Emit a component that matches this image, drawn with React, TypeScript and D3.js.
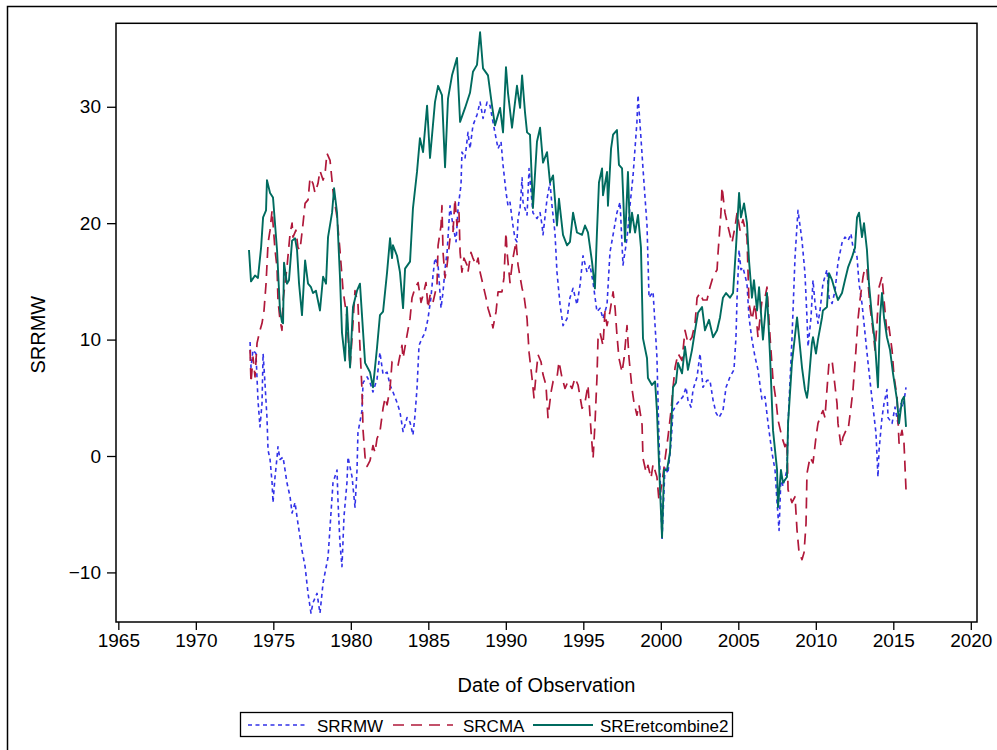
import { useEffect, useRef } from "react"
import { axisBottom, axisLeft, line, scaleLinear, select } from "d3"

// [decimal year, value]
const srrmw: [number, number][] = [
  [1973.50,9.8],[1973.56,7.6],[1973.69,9.1],[1973.88,8.8],[1974.01,4.8],[1974.14,2.5],[1974.27,4.5],[1974.34,8.8],[1974.46,6.3],[1974.59,3.3],[1974.66,0.5],[1974.79,-0.3],[1974.92,-2.3],[1974.98,-4.0],[1975.11,-1.8],[1975.24,-0.1],[1975.30,0.8],[1975.43,-0.3],[1975.63,-0.1],[1975.88,-2.3],[1976.08,-3.5],[1976.21,-4.9],[1976.40,-4.0],[1976.59,-5.8],[1976.85,-8.1],[1977.05,-9.5],[1977.24,-11.8],[1977.43,-13.5],[1977.56,-12.6],[1977.82,-11.8],[1978.01,-13.5],[1978.21,-10.9],[1978.34,-10.0],[1978.53,-8.7],[1978.66,-6.1],[1978.85,-2.3],[1979.11,-1.2],[1979.17,-3.8],[1979.30,-7.5],[1979.43,-9.5],[1979.56,-5.2],[1979.75,-2.3],[1979.82,-0.1],[1980.08,-1.8],[1980.27,-4.4],[1980.40,-1.2],[1980.46,2.0],[1980.72,3.9],[1980.79,6.3],[1981.05,6.8],[1981.24,6.3],[1981.43,5.5],[1981.69,6.6],[1981.88,8.9],[1982.08,7.0],[1982.34,7.2],[1982.53,6.1],[1982.72,5.5],[1982.98,4.6],[1983.17,3.8],[1983.37,2.1],[1983.63,3.3],[1983.82,2.9],[1984.01,1.8],[1984.14,3.5],[1984.27,5.8],[1984.40,9.5],[1984.59,10.1],[1984.79,10.6],[1984.98,11.8],[1985.17,13.6],[1985.30,15.5],[1985.43,17.0],[1985.63,16.4],[1985.82,12.7],[1985.95,14.1],[1986.08,16.1],[1986.21,17.5],[1986.40,21.5],[1986.59,19.8],[1986.79,18.4],[1986.92,21.3],[1987.11,23.3],[1987.17,26.1],[1987.37,25.6],[1987.56,27.8],[1987.69,26.4],[1987.88,28.4],[1988.14,29.3],[1988.34,30.4],[1988.53,29.0],[1988.79,30.4],[1988.98,30.1],[1989.17,28.7],[1989.37,27.3],[1989.50,26.4],[1989.69,27.0],[1989.82,25.0],[1990.01,22.7],[1990.14,21.5],[1990.27,21.8],[1990.40,20.4],[1990.46,19.8],[1990.59,18.7],[1990.72,18.4],[1990.79,20.4],[1990.92,21.3],[1991.05,23.9],[1991.11,21.8],[1991.37,20.7],[1991.50,24.7],[1991.63,22.7],[1991.75,20.9],[1992.01,20.4],[1992.21,20.9],[1992.34,19.8],[1992.40,19.0],[1992.66,22.1],[1992.85,23.5],[1992.98,21.5],[1993.17,19.2],[1993.30,15.8],[1993.50,13.0],[1993.69,11.2],[1993.95,11.8],[1994.14,13.6],[1994.34,14.4],[1994.59,13.0],[1994.79,14.7],[1994.98,17.2],[1995.24,15.8],[1995.43,16.4],[1995.63,14.9],[1995.88,12.4],[1996.08,12.7],[1996.27,11.8],[1996.53,13.0],[1996.72,17.5],[1996.92,19.0],[1997.17,20.9],[1997.37,21.8],[1997.56,16.4],[1997.82,18.7],[1998.01,21.5],[1998.21,24.1],[1998.46,28.7],[1998.53,31.0],[1998.72,27.3],[1998.85,24.7],[1999.11,19.8],[1999.24,13.6],[1999.50,14.1],[1999.75,8.5],[1999.88,1.6],[2000.08,-7.2],[2000.27,-0.9],[2000.46,-1.5],[2000.66,1.1],[2000.79,3.9],[2001.05,4.5],[2001.24,4.8],[2001.43,5.1],[2001.63,5.9],[2001.75,4.8],[2001.95,4.2],[2002.08,5.7],[2002.34,6.8],[2002.53,8.8],[2002.72,5.9],[2002.98,6.5],[2003.17,6.5],[2003.37,4.8],[2003.56,3.7],[2003.75,3.3],[2004.01,3.9],[2004.21,5.9],[2004.46,6.8],[2004.72,7.4],[2004.85,10.2],[2004.92,13.6],[2005.05,17.7],[2005.17,16.0],[2005.30,16.2],[2005.56,14.8],[2005.69,11.9],[2005.88,10.0],[2006.08,8.5],[2006.27,7.4],[2006.53,4.8],[2006.72,5.1],[2006.92,2.8],[2007.17,0.3],[2007.37,-1.2],[2007.50,-4.0],[2007.63,-6.4],[2007.75,-1.8],[2007.88,-2.6],[2008.14,-1.2],[2008.21,2.8],[2008.46,10.0],[2008.66,17.1],[2008.85,21.1],[2009.11,18.5],[2009.30,15.7],[2009.43,11.9],[2009.50,9.4],[2009.69,11.9],[2009.82,15.1],[2009.95,13.1],[2010.14,11.4],[2010.27,12.5],[2010.46,14.8],[2010.72,16.0],[2010.85,13.6],[2011.05,13.1],[2011.24,14.2],[2011.43,16.6],[2011.69,18.3],[2011.88,18.8],[2012.08,18.5],[2012.27,19.1],[2012.40,17.9],[2012.66,17.1],[2012.79,14.8],[2012.98,13.1],[2013.17,10.6],[2013.37,8.0],[2013.56,5.7],[2013.69,4.2],[2013.88,2.0],[2014.01,-1.8],[2014.08,0.5],[2014.27,3.3],[2014.40,4.5],[2014.59,5.7],[2014.66,3.3],[2014.92,2.8],[2015.11,4.2],[2015.30,2.8],[2015.50,4.5],[2015.63,4.2],[2015.82,5.9]
]

const srcma: [number, number][] = [
  [1973.50,9.1],[1973.56,6.3],[1973.69,8.5],[1973.82,6.8],[1973.95,9.7],[1974.14,10.8],[1974.27,11.4],[1974.40,12.5],[1974.53,14.8],[1974.66,18.3],[1974.79,19.4],[1974.92,21.1],[1974.98,20.0],[1975.11,17.7],[1975.24,16.2],[1975.30,13.4],[1975.43,11.7],[1975.56,10.8],[1975.63,13.4],[1975.88,16.2],[1976.08,19.1],[1976.21,20.0],[1976.27,18.8],[1976.46,19.4],[1976.59,17.9],[1976.72,17.7],[1976.92,20.0],[1977.05,21.7],[1977.24,22.0],[1977.37,23.9],[1977.56,23.4],[1977.69,22.6],[1977.88,23.4],[1978.01,24.5],[1978.21,23.7],[1978.34,24.3],[1978.46,26.0],[1978.66,25.4],[1978.85,22.8],[1979.11,20.5],[1979.30,17.7],[1979.50,14.2],[1979.75,11.9],[1979.95,7.6],[1980.08,10.2],[1980.27,14.2],[1980.46,13.1],[1980.72,5.7],[1980.79,2.2],[1980.92,-0.1],[1981.05,-0.9],[1981.24,-0.4],[1981.43,0.9],[1981.56,0.3],[1981.69,1.5],[1981.88,2.1],[1982.08,4.1],[1982.21,5.0],[1982.34,4.4],[1982.53,5.8],[1982.66,8.1],[1982.85,8.1],[1983.05,7.8],[1983.30,9.5],[1983.37,8.4],[1983.63,10.4],[1983.82,11.8],[1983.95,13.6],[1984.14,14.4],[1984.34,14.9],[1984.53,13.2],[1984.66,13.8],[1984.85,14.9],[1984.98,12.7],[1985.11,13.8],[1985.30,13.2],[1985.56,14.7],[1985.63,18.1],[1985.82,19.8],[1985.88,21.5],[1985.95,17.5],[1986.08,15.3],[1986.21,16.4],[1986.40,18.7],[1986.59,19.2],[1986.72,22.1],[1986.85,19.8],[1986.98,20.9],[1987.05,17.5],[1987.17,15.8],[1987.30,17.0],[1987.50,16.4],[1987.56,15.8],[1987.75,17.5],[1987.88,17.0],[1988.08,16.4],[1988.21,17.0],[1988.34,15.8],[1988.53,14.7],[1988.72,13.6],[1988.85,12.7],[1989.05,11.8],[1989.17,11.0],[1989.37,12.4],[1989.50,14.1],[1989.75,14.1],[1989.88,15.3],[1990.01,19.2],[1990.08,17.5],[1990.27,14.9],[1990.46,17.0],[1990.66,18.4],[1990.79,16.4],[1991.05,14.4],[1991.17,13.8],[1991.37,11.8],[1991.50,8.9],[1991.69,6.7],[1991.82,5.0],[1991.95,7.0],[1992.08,8.7],[1992.27,8.1],[1992.40,7.0],[1992.59,6.1],[1992.72,3.3],[1992.92,5.5],[1993.05,6.4],[1993.30,6.7],[1993.43,8.1],[1993.63,6.7],[1993.82,5.8],[1994.01,6.4],[1994.27,5.8],[1994.46,6.7],[1994.66,6.1],[1994.92,4.1],[1995.11,4.6],[1995.30,6.1],[1995.50,2.1],[1995.63,-0.2],[1995.75,2.7],[1995.88,6.7],[1995.95,10.1],[1996.08,10.6],[1996.27,9.5],[1996.40,12.4],[1996.53,11.2],[1996.72,12.4],[1996.92,14.1],[1997.05,12.7],[1997.17,10.4],[1997.30,8.4],[1997.50,7.2],[1997.63,8.4],[1997.82,11.2],[1997.95,8.4],[1998.14,5.8],[1998.27,4.6],[1998.46,3.5],[1998.59,4.4],[1998.79,2.7],[1998.85,-0.2],[1999.05,-1.4],[1999.17,-0.8],[1999.37,-1.9],[1999.50,-0.7],[1999.75,-1.8],[1999.88,-3.8],[2000.08,-2.3],[2000.27,-0.3],[2000.46,1.6],[2000.66,3.9],[2000.79,5.9],[2000.92,7.6],[2001.11,8.8],[2001.37,8.2],[2001.56,10.8],[2001.75,9.7],[2002.01,10.2],[2002.21,11.4],[2002.34,13.6],[2002.53,14.0],[2002.72,13.4],[2002.98,13.4],[2003.17,14.5],[2003.37,15.4],[2003.63,16.0],[2003.69,17.4],[2003.88,20.9],[2003.95,23.1],[2004.14,20.9],[2004.34,19.7],[2004.59,18.3],[2004.79,19.7],[2004.92,20.9],[2005.11,19.4],[2005.30,20.3],[2005.56,18.8],[2005.69,13.1],[2005.88,11.7],[2006.08,13.1],[2006.27,10.2],[2006.53,13.4],[2006.72,13.6],[2006.85,14.5],[2007.05,10.2],[2007.24,6.5],[2007.43,4.8],[2007.56,3.1],[2007.82,1.6],[2008.01,0.8],[2008.14,1.3],[2008.21,-2.9],[2008.46,-4.0],[2008.66,-3.5],[2008.79,-6.4],[2008.92,-8.3],[2009.11,-8.9],[2009.24,-8.3],[2009.37,-5.8],[2009.43,-1.5],[2009.63,-0.1],[2009.82,-0.6],[2010.01,1.6],[2010.14,2.8],[2010.27,3.3],[2010.46,3.9],[2010.59,3.3],[2010.72,5.7],[2010.85,8.0],[2011.05,8.2],[2011.17,6.8],[2011.37,4.5],[2011.43,2.8],[2011.63,0.8],[2011.75,1.6],[2011.95,2.2],[2012.08,2.2],[2012.27,4.2],[2012.40,5.7],[2012.59,9.1],[2012.72,11.7],[2012.85,13.4],[2013.05,15.4],[2013.17,16.2],[2013.30,16.0],[2013.50,12.8],[2013.69,10.8],[2013.82,9.1],[2013.95,11.4],[2014.08,14.5],[2014.27,15.4],[2014.40,13.4],[2014.59,10.6],[2014.72,11.1],[2014.92,9.1],[2015.05,6.8],[2015.24,5.1],[2015.37,1.1],[2015.56,2.2],[2015.69,1.1],[2015.82,-2.9]
]

const sreretcombine2: [number, number][] = [
  [1973.43,17.7],[1973.56,15.0],[1973.82,15.5],[1974.01,15.3],[1974.21,17.9],[1974.34,20.5],[1974.53,21.1],[1974.59,23.7],[1974.79,22.6],[1974.98,22.2],[1975.24,17.7],[1975.43,12.5],[1975.56,11.5],[1975.63,11.4],[1975.69,16.6],[1975.88,14.8],[1976.01,15.1],[1976.21,18.5],[1976.40,18.7],[1976.53,17.7],[1976.66,14.8],[1976.85,12.1],[1977.05,16.8],[1977.24,14.8],[1977.43,14.5],[1977.56,14.0],[1977.75,14.2],[1978.01,12.5],[1978.21,15.4],[1978.40,14.8],[1978.53,18.8],[1978.79,20.9],[1978.92,23.0],[1979.11,20.9],[1979.30,15.4],[1979.43,10.6],[1979.63,8.2],[1979.75,12.8],[1979.95,7.6],[1980.14,12.8],[1980.40,14.2],[1980.59,14.8],[1980.92,8.0],[1981.24,7.2],[1981.43,5.9],[1981.69,9.3],[1981.88,12.1],[1982.08,12.4],[1982.34,15.8],[1982.53,18.7],[1982.66,17.0],[1982.72,18.1],[1982.98,17.2],[1983.17,15.8],[1983.37,12.7],[1983.50,16.1],[1983.82,16.7],[1984.01,21.3],[1984.27,24.4],[1984.46,27.3],[1984.66,26.1],[1984.92,30.1],[1985.11,25.6],[1985.43,30.4],[1985.63,31.8],[1985.88,31.0],[1986.08,24.8],[1986.27,30.7],[1986.53,32.7],[1986.85,34.2],[1987.05,28.7],[1987.37,29.9],[1987.69,31.2],[1987.88,33.0],[1988.14,33.6],[1988.34,36.4],[1988.53,33.3],[1988.85,32.7],[1989.11,30.1],[1989.30,28.4],[1989.63,29.9],[1989.82,27.8],[1990.01,33.4],[1990.14,31.2],[1990.40,28.2],[1990.72,31.8],[1990.92,29.9],[1991.05,32.7],[1991.24,29.5],[1991.37,27.8],[1991.56,27.6],[1991.75,21.3],[1992.01,27.0],[1992.21,28.2],[1992.40,25.2],[1992.66,26.1],[1992.85,23.5],[1993.05,24.1],[1993.30,19.8],[1993.43,22.1],[1993.69,19.0],[1993.95,18.1],[1994.14,18.4],[1994.34,20.9],[1994.59,19.2],[1994.92,19.0],[1995.11,19.8],[1995.30,19.2],[1995.56,16.7],[1995.75,14.4],[1995.88,19.2],[1996.01,23.5],[1996.21,24.7],[1996.27,22.4],[1996.53,24.4],[1996.59,21.5],[1996.79,26.4],[1996.92,27.6],[1997.17,28.0],[1997.30,25.0],[1997.50,24.7],[1997.69,18.4],[1997.88,24.4],[1998.01,19.2],[1998.14,20.9],[1998.34,19.2],[1998.53,20.7],[1998.72,17.9],[1998.85,10.1],[1999.11,8.4],[1999.17,6.7],[1999.43,6.1],[1999.63,6.4],[1999.75,3.9],[1999.95,-2.9],[2000.08,-7.0],[2000.21,-1.2],[2000.40,-1.2],[2000.59,0.3],[2000.79,5.9],[2000.98,6.3],[2001.11,8.0],[2001.37,7.1],[2001.56,9.4],[2001.75,7.4],[2002.01,9.1],[2002.21,10.8],[2002.40,12.3],[2002.66,12.8],[2002.85,10.8],[2003.11,11.7],[2003.37,10.2],[2003.63,10.8],[2003.82,11.9],[2004.01,13.6],[2004.21,14.0],[2004.46,13.6],[2004.66,14.0],[2004.85,17.9],[2005.05,22.6],[2005.17,20.5],[2005.37,21.7],[2005.56,20.0],[2005.69,16.8],[2005.88,13.6],[2006.01,15.1],[2006.21,12.5],[2006.34,14.5],[2006.59,10.0],[2006.85,14.0],[2007.05,8.5],[2007.24,2.2],[2007.50,-1.2],[2007.56,-4.4],[2007.75,-1.2],[2007.88,-2.3],[2008.14,-1.8],[2008.21,2.8],[2008.46,8.0],[2008.79,11.9],[2008.92,10.2],[2009.11,7.6],[2009.30,5.7],[2009.43,5.0],[2009.50,5.7],[2009.75,9.7],[2009.82,10.2],[2010.01,8.8],[2010.14,10.0],[2010.40,11.9],[2010.46,12.5],[2010.72,12.8],[2010.85,15.7],[2011.05,15.1],[2011.24,14.2],[2011.43,13.4],[2011.69,14.0],[2011.88,15.1],[2012.08,16.2],[2012.34,17.1],[2012.53,17.9],[2012.66,20.5],[2012.79,20.9],[2012.98,18.8],[2013.11,20.0],[2013.30,17.7],[2013.43,14.8],[2013.63,11.9],[2013.82,9.7],[2014.01,5.9],[2014.14,11.9],[2014.27,14.0],[2014.40,11.9],[2014.59,10.2],[2014.79,9.1],[2014.98,7.1],[2015.24,4.8],[2015.37,2.8],[2015.56,4.8],[2015.69,5.1],[2015.82,2.5]
]

const seriesNames = ["SRRMW", "SRCMA", "SREretcombine2"]
const seriesData = [srrmw, srcma, sreretcombine2]
const seriesColors = ["#3232e8", "#b0183a", "#006b5f"]
const seriesDash = ["4,3.5", "11,7", null]
const seriesWidth = [1.6, 1.7, 1.9]

const xTicks = [1965, 1970, 1975, 1980, 1985, 1990, 1995, 2000, 2005, 2010, 2015, 2020]
const yTicks = [-10, 0, 10, 20, 30]

const FONT = "'Liberation Sans', Arial, sans-serif"

function AxisBottom({ scale, y }) {
  const ref = useRef(null)
  useEffect(() => {
    const g = select(ref.current)
    g.call(axisBottom(scale).tickValues(xTicks).tickFormat((d) => String(d)).tickSize(8).tickPadding(4))
    g.select(".domain").remove()
    g.selectAll("line").attr("stroke", "#000").attr("stroke-width", 1.3)
    g.selectAll("text").attr("font-size", "19px").attr("font-family", FONT).attr("fill", "#000")
  }, [scale])
  return <g ref={ref} transform={`translate(0,${y})`} />
}

function AxisLeft({ scale, x }) {
  const ref = useRef(null)
  useEffect(() => {
    const g = select(ref.current)
    g.call(axisLeft(scale).tickValues(yTicks).tickSize(9).tickPadding(6))
    g.select(".domain").remove()
    g.selectAll("line").attr("stroke", "#000").attr("stroke-width", 1.3)
    g.selectAll("text").attr("font-size", "19px").attr("font-family", FONT).attr("fill", "#000")
  }, [scale])
  return <g ref={ref} transform={`translate(${x},0)`} />
}

export default function App() {
  const plot = { left: 116, top: 23.3, right: 977, bottom: 622 }

  const x = scaleLinear().domain([1964.85, 2020.4]).range([plot.left, plot.right])
  const y = scaleLinear().domain([-14.26, 37.17]).range([plot.bottom, plot.top])

  const lineGen = line<[number, number]>()
    .x((d) => x(d[0]))
    .y((d) => y(d[1]))

  const legendItems = [
    { lx: 248, tx: 317 },
    { lx: 393, tx: 463 },
    { lx: 533, tx: 600 },
  ]

  return (
    <svg
      width={997}
      height={750}
      style={{ position: "absolute", left: 0, top: 0, background: "#fff" }}
      fontFamily={FONT}
    >
      <rect x={7.5} y={6.5} width={995} height={750} fill="none" stroke="#000" strokeWidth={1.5} />

      <defs>
        <clipPath id="plotClip">
          <rect x={plot.left} y={plot.top} width={plot.right - plot.left} height={plot.bottom - plot.top} />
        </clipPath>
      </defs>

      <g clipPath="url(#plotClip)">
        {seriesData.map((d, i) => (
          <path
            key={seriesNames[i]}
            d={lineGen(d) || ""}
            fill="none"
            stroke={seriesColors[i]}
            strokeWidth={seriesWidth[i]}
            strokeDasharray={seriesDash[i] || undefined}
            strokeLinejoin="round"
          />
        ))}
      </g>

      <rect
        x={plot.left}
        y={plot.top}
        width={plot.right - plot.left}
        height={plot.bottom - plot.top}
        fill="none"
        stroke="#000"
        strokeWidth={1.5}
      />

      <AxisBottom scale={x} y={plot.bottom} />
      <AxisLeft scale={y} x={plot.left} />

      <text x={(plot.left + plot.right) / 2} y={692} textAnchor="middle" fontSize="20px" fill="#000">
        Date of Observation
      </text>
      <text
        transform={`translate(45,${(plot.top + plot.bottom) / 2 + 12}) rotate(-90)`}
        textAnchor="middle"
        fontSize="20px"
        fill="#000"
      >
        SRRMW
      </text>

      <rect x={240.5} y={712.5} width={492} height={24} fill="none" stroke="#000" strokeWidth={1.3} />
      {seriesNames.map((name, i) => (
        <g key={name}>
          <line
            x1={legendItems[i].lx}
            x2={legendItems[i].lx + 60}
            y1={725}
            y2={725}
            stroke={seriesColors[i]}
            strokeWidth={seriesWidth[i]}
            strokeDasharray={seriesDash[i] || undefined}
          />
          <text x={legendItems[i].tx} y={731.5} fontSize="17px" fill="#000">
            {name}
          </text>
        </g>
      ))}
    </svg>
  )
}
